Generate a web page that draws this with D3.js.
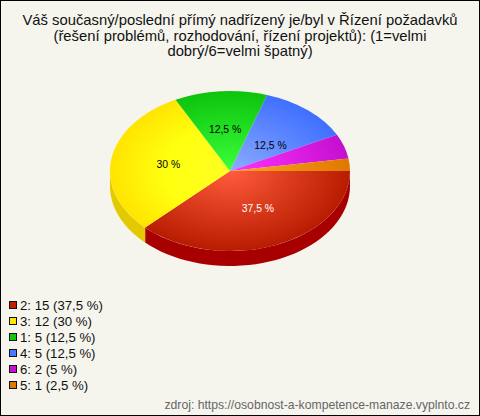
<!DOCTYPE html>
<html><head><meta charset="utf-8">
<script src="https://cdn.jsdelivr.net/npm/d3@7"></script>
<style>html,body{margin:0;padding:0;background:#f5f5ee}svg{display:block}text{font-family:"Liberation Sans",Arial,sans-serif}</style>
</head><body><div id="c"></div>
<script>
const titleLines=["Váš současný/poslední přímý nadřízený je/byl v Řízení požadavků","(řešení problémů, rozhodování, řízení projektů): (1=velmi","dobrý/6=velmi špatný)"];
const categories=["2","3","1","4","6","5"];
const counts=[15,12,5,5,2,1];
const shares=["37,5","30","12,5","12,5","5","2,5"];
const innerColors=["#ff5c3c","#ffff22","#3cff3c","#8cacff","#ff33ff","#ffa526"];
const outerColors=["#b81c00","#ffe400","#0cc40c","#3f6fff","#c40fd0","#e07800"];
const sideColors=["#a80000","#e3c900","#0a9a0a","#3055c0","#9a0aa0","#b06000"];
const legendColors=["#c42000","#ffe800","#10c810","#4a78ff","#c810d0","#e07800"];
const labelColors=["#ffffff","#000000","#000000","#000000",null,null];
const source="zdroj: https://osobnost-a-kompetence-manaze.vyplnto.cz";

const W=480,H=416,cx=230,cy=171,rx=120,ry=80,depth=15;
const svg=d3.select("#c").append("svg").attr("width",W).attr("height",H);
svg.append("rect").attr("x",.5).attr("y",.5).attr("width",W-1).attr("height",H-1).attr("fill","#f5f5ee").attr("stroke","#000");

const titleY=d3.scaleLinear().domain([0,2]).range([25,56]);
svg.append("g").selectAll("text").data(titleLines).join("text")
 .attr("x",240).attr("y",(d,i)=>titleY(i)).attr("text-anchor","middle")
 .attr("font-size",14.8).attr("fill","#111").text(d=>d);

const pie=d3.pie().sort(null).value(d=>d).startAngle(Math.PI/2).endAngle(Math.PI*2.5);
const arcs=pie(counts);
const defs=svg.append("defs");
arcs.forEach((a,i)=>{
 const g=defs.append("radialGradient").attr("id","g"+i).attr("gradientUnits","userSpaceOnUse")
  .attr("cx",0).attr("cy",0).attr("r",rx);
 g.append("stop").attr("offset",0).attr("stop-color",innerColors[i]);
 g.append("stop").attr("offset",i==1?.55:1).attr("stop-color",i==1?"#ffff10":outerColors[i]);
 if(i==1)g.append("stop").attr("offset",1).attr("stop-color",outerColors[i]);
});
const arc=d3.arc().innerRadius(0).outerRadius(rx);

const side=svg.append("g");
arcs.forEach((a,i)=>{
 const s=Math.max(a.startAngle,Math.PI/2), e=Math.min(a.endAngle,Math.PI*1.5);
 if(e<=s)return;
 const t=d3.scaleLinear().domain([0,40]).range([s,e]);
 const pts=d3.range(41).map(k=>t(k));
 const area=d3.area().x(v=>cx+rx*Math.sin(v)).y0(v=>cy-ry*Math.cos(v)).y1(v=>cy-ry*Math.cos(v)+depth);
 side.append("path").attr("d",area(pts)).attr("fill",sideColors[i]);
});

const pieTop=svg.append("g").attr("transform",`translate(${cx},${cy}) scale(1,${ry/rx})`);
pieTop.selectAll("path").data(arcs).join("path").attr("d",arc).attr("fill",(d,i)=>`url(#g${i})`);

const nudgeX=[4,0,0,0,0,0], nudgeY=[-1,0,0,6,0,0], labelF=.52;
svg.append("g").selectAll("text").data(arcs.filter((a,i)=>labelColors[i])).join("text")
 .attr("x",d=>cx+nudgeX[d.index]+rx*labelF*Math.sin((d.startAngle+d.endAngle)/2))
 .attr("y",d=>cy+nudgeY[d.index]-ry*labelF*Math.cos((d.startAngle+d.endAngle)/2)+3.5)
 .attr("text-anchor","middle").attr("font-size",10.4)
 .attr("fill",d=>labelColors[d.index]).text(d=>shares[d.index]+" %");

const lg=svg.append("g");
const row=d3.scalePoint().domain(categories).range([305,385]);
categories.forEach((c,i)=>{
 lg.append("rect").attr("x",9.5).attr("y",row(c)-3.5).attr("width",7).attr("height",7)
  .attr("fill",legendColors[i]).attr("stroke","#111");
 lg.append("text").attr("x",20).attr("y",row(c)+4.5).attr("font-size",13.2).attr("fill","#111")
  .text(`${c}: ${counts[i]} (${shares[i]} %)`);
});
svg.append("text").attr("x",470).attr("y",408.5).attr("text-anchor","end").attr("font-size",12.2)
 .attr("fill","#666").text(source);
</script></body></html>
